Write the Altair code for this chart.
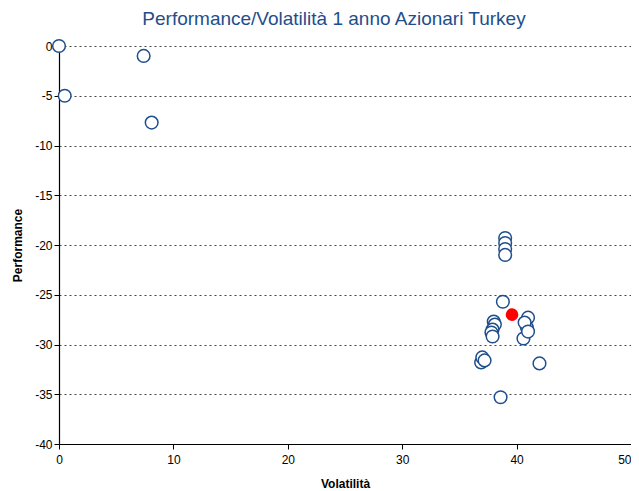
import altair as alt
import pandas as pd

vol = [0.0, 0.5, 7.4, 8.1,
       39.0, 39.0, 39.0, 39.0,
       38.8,
       38.0, 38.1, 37.9, 37.8, 37.9,
       41.0, 40.9, 40.7, 40.6, 41.0,
       36.9, 37.0, 37.2, 42.0, 38.6]
perf = [0.0, -5.0, -1.0, -7.7,
        -19.3, -19.8, -20.4, -21.0,
        -25.7,
        -27.7, -28.0, -28.5, -28.8, -29.2,
        -27.3, -28.3, -27.8, -29.4, -28.7,
        -31.8, -31.3, -31.6, -31.9, -35.3]

hl_vol = [39.6]
hl_perf = [-27.0]

df = pd.DataFrame({"Volatilità": vol, "Performance": perf})
dh = pd.DataFrame({"Volatilità": hl_vol, "Performance": hl_perf})

x = alt.X("Volatilità:Q", scale=alt.Scale(domain=[0, 50], nice=False),
          axis=alt.Axis(values=[0, 10, 20, 30, 40, 50], grid=False,
                        title="Volatilità", tickSize=5, labelPadding=5,
                        titlePadding=13,
                        labelAlign=alt.ExprRef(expr="datum.value == 50 ? 'right' : 'center'")))
y = alt.Y("Performance:Q", scale=alt.Scale(domain=[-40, 0], nice=False),
          axis=alt.Axis(values=[-40, -35, -30, -25, -20, -15, -10, -5, 0],
                        grid=True, gridDash=[2, 3], gridColor="#444",
                        gridWidth=1, title="Performance", tickSize=5,
                        labelPadding=2, titlePadding=10,
                        labelExpr="'' + datum.value"))

base = alt.Chart(df).mark_point(shape="circle", filled=False, fill="white",
                                fillOpacity=1, stroke="#1f4e8c",
                                strokeWidth=1.5, size=160, opacity=1).encode(x=x, y=y)
red = alt.Chart(dh).mark_point(shape="circle", filled=True, color="#ff0000",
                               size=160, opacity=1).encode(x=x, y=y)

chart = alt.layer(base, red).properties(
    width=572, height=398,
    title=alt.TitleParams("Performance/Volatilità 1 anno Azionari Turkey",
                          font="Liberation Sans", fontSize=19,
                          fontWeight="normal", color="#1f4e8c",
                          anchor="middle", offset=8, dx=-11),
    autosize=alt.AutoSizeParams(type="none"),
    padding={"left": 51, "top": 38, "right": 0, "bottom": 45},
).configure_view(stroke=None).configure_axis(
    domainColor="#000", tickColor="#000", labelColor="#000",
    labelFont="Liberation Sans", labelFontSize=12,
    titleFont="Liberation Sans", titleFontSize=12, titleFontWeight="bold",
    titleColor="#000", domainWidth=1.2,
)

chart.save("out.html", embed_options={"renderer": "svg", "actions": False})
